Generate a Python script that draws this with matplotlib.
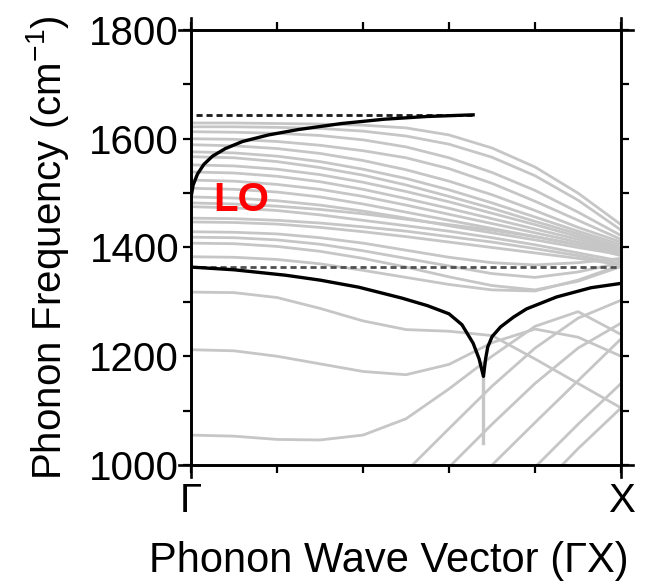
import matplotlib
matplotlib.use("Agg")
import matplotlib.pyplot as plt
from matplotlib.lines import Line2D

plt.rcParams["font.family"] = ["Liberation Sans", "DejaVu Sans"]
plt.rcParams["mathtext.fontset"] = "custom"
plt.rcParams["mathtext.rm"] = "Liberation Sans"

# wave vector samples (fraction of Gamma-X)
q = [0.0, 0.1, 0.2, 0.3, 0.4, 0.5, 0.6, 0.7, 0.8, 0.9, 1.0]

# upper band of folded optical branches (grey), cm^-1
upper_bands = [
    [1629, 1629, 1628, 1627, 1625, 1620, 1607, 1583, 1548, 1500, 1442],
    [1622, 1622, 1621, 1619, 1614, 1605, 1590, 1566, 1532, 1487, 1432],
    [1613, 1612, 1610, 1606, 1598, 1585, 1565, 1538, 1505, 1465, 1422],
    [1600, 1599, 1595, 1588, 1578, 1565, 1545, 1518, 1485, 1450, 1415],
    [1589, 1587, 1582, 1573, 1560, 1543, 1522, 1497, 1468, 1437, 1410],
    [1576, 1574, 1568, 1558, 1544, 1527, 1506, 1482, 1456, 1430, 1405],
    [1567, 1565, 1558, 1547, 1533, 1515, 1494, 1472, 1448, 1425, 1400],
    [1552, 1550, 1544, 1534, 1520, 1503, 1484, 1463, 1442, 1420, 1398],
    [1539, 1537, 1531, 1521, 1507, 1490, 1472, 1453, 1434, 1415, 1395],
    [1524, 1522, 1516, 1507, 1494, 1478, 1461, 1444, 1427, 1410, 1392],
    [1509, 1507, 1502, 1493, 1480, 1465, 1450, 1435, 1420, 1405, 1390],
    [1493, 1491, 1486, 1478, 1467, 1454, 1440, 1427, 1414, 1400, 1387],
    [1482, 1480, 1476, 1470, 1462, 1452, 1442, 1432, 1420, 1405, 1385],
    [1475, 1473, 1468, 1460, 1450, 1440, 1430, 1418, 1405, 1390, 1375],
    [1454, 1453, 1450, 1445, 1438, 1430, 1420, 1410, 1398, 1385, 1370],
    [1447, 1446, 1443, 1437, 1429, 1420, 1410, 1400, 1390, 1380, 1368],
    [1429, 1428, 1425, 1418, 1408, 1395, 1382, 1372, 1368, 1372, 1380],
    [1419, 1418, 1414, 1406, 1394, 1380, 1366, 1352, 1345, 1355, 1372],
    [1408, 1407, 1402, 1393, 1380, 1364, 1346, 1330, 1322, 1338, 1365],
    [1383, 1382, 1378, 1370, 1358, 1345, 1332, 1322, 1320, 1340, 1368],
]

# lower grey branches
lower_bands = [
    [1318, 1317, 1308, 1288, 1265, 1249, 1246, 1238, 1195, 1150, 1105],
    [1212, 1210, 1200, 1186, 1172, 1166, 1185, 1225, 1250, 1235, 1200],
    [1055, 1053, 1047, 1046, 1055, 1085, 1140, 1200, 1255, 1282, 1240],
]

# acoustic-like folded branches rising from the bottom
rising_q = [
    [0.515, 0.6, 0.7, 0.8, 0.9, 1.0],
    [0.605, 0.7, 0.8, 0.9, 1.0],
    [0.70, 0.8, 0.9, 1.0],
    [0.805, 0.9, 1.0],
    [0.863, 0.9, 1.0],
]
rising_f = [
    [1000, 1067, 1145, 1215, 1270, 1303],
    [1000, 1075, 1150, 1215, 1261],
    [1000, 1078, 1155, 1232],
    [1000, 1075, 1150],
    [1000, 1030, 1105],
]

# LO branches (black)
lo_up_q = [0, 0.005, 0.015, 0.03, 0.05, 0.08, 0.12, 0.18, 0.25, 0.35, 0.45, 0.55, 0.656]
lo_up_f = [1492, 1515, 1535, 1553, 1568, 1582, 1595, 1607, 1617, 1628, 1636, 1641, 1644]
lo_low_q = [0, 0.1, 0.22, 0.3, 0.39, 0.49, 0.55, 0.6, 0.63, 0.656, 0.67, 0.68,
            0.685, 0.69, 0.70, 0.72, 0.75, 0.78, 0.85, 0.93, 1.0]
lo_low_f = [1364, 1359, 1349, 1340, 1327, 1307, 1293, 1278, 1258, 1224, 1195, 1163,
            1195, 1217, 1236, 1254, 1272, 1287, 1309, 1326, 1334]
kohn_q = [0.68, 0.68]
kohn_f = [1163, 1040]

# dashed reference levels
ref_hi, ref_hi_span = 1644, [0.012, 0.656]
ref_lo, ref_lo_span = 1364, [0.02, 1.0]

fig = plt.figure(figsize=(6.51, 5.84), dpi=100)
ax = fig.add_axes([0.2934, 0.2038, 0.6606, 0.7448])

grey = "#c6c6c6"
for f in upper_bands + lower_bands:
    ax.plot(q, f, color=grey, lw=2.0)
for qq, ff in zip(rising_q, rising_f):
    ax.plot(qq, ff, color=grey, lw=2.0)
ax.plot(kohn_q, kohn_f, color=grey, lw=2.4)

ax.plot(ref_hi_span, [ref_hi, ref_hi], color="#1a1a1a", lw=2.0, ls=(0, (2.2, 1.4)))
ax.plot(ref_lo_span, [ref_lo, ref_lo], color="#505050", lw=2.0, ls=(0, (2.2, 1.4)))

ax.plot(lo_up_q, lo_up_f, color="black", lw=2.4)
ax.plot(lo_low_q, lo_low_f, color="black", lw=2.4)

ax.text(0.116, 1487, "LO", color="#ff0000", fontsize=29, fontweight="bold",
        ha="center", va="center")

ax.set_xlim(0, 1)
ax.set_ylim(1000, 1800)
ax.set_xticks([0, 1])
ax.set_xticklabels(["\u0393", "X"])
ax.set_xticks([0.2, 0.4, 0.6, 0.8], minor=True)
ax.set_yticks([1000, 1200, 1400, 1600, 1800])
ax.set_yticks([1100, 1300, 1500, 1700], minor=True)
ax.tick_params(which="both", direction="out", length=5.5, width=1.6,
               top=True, right=True, labelsize=29)
ax.tick_params(axis="x", pad=7)
ax.tick_params(axis="y", pad=3)
for s in ax.spines.values():
    s.set_linewidth(1.9)

# frame lines run a little past the corners
ex, ey = 0.028, 0.028
for xs, ys in [([-ex, 1 + ex], [0, 0]), ([-ex, 1 + ex], [1, 1]),
               ([0, 0], [-ey, 1 + ey]), ([1, 1], [-ey, 1 + ey])]:
    ax.add_line(Line2D(xs, ys, transform=ax.transAxes, color="black",
                       lw=1.9, clip_on=False))

ax.set_ylabel("Phonon Frequency (cm$^{-1}$)", fontsize=29, labelpad=13)
ax.set_xlabel("Phonon Wave Vector (\u0393X)", fontsize=30, labelpad=10)
ax.xaxis.set_label_coords(0.46, -0.175)

fig.savefig("out.png", dpi=100)
